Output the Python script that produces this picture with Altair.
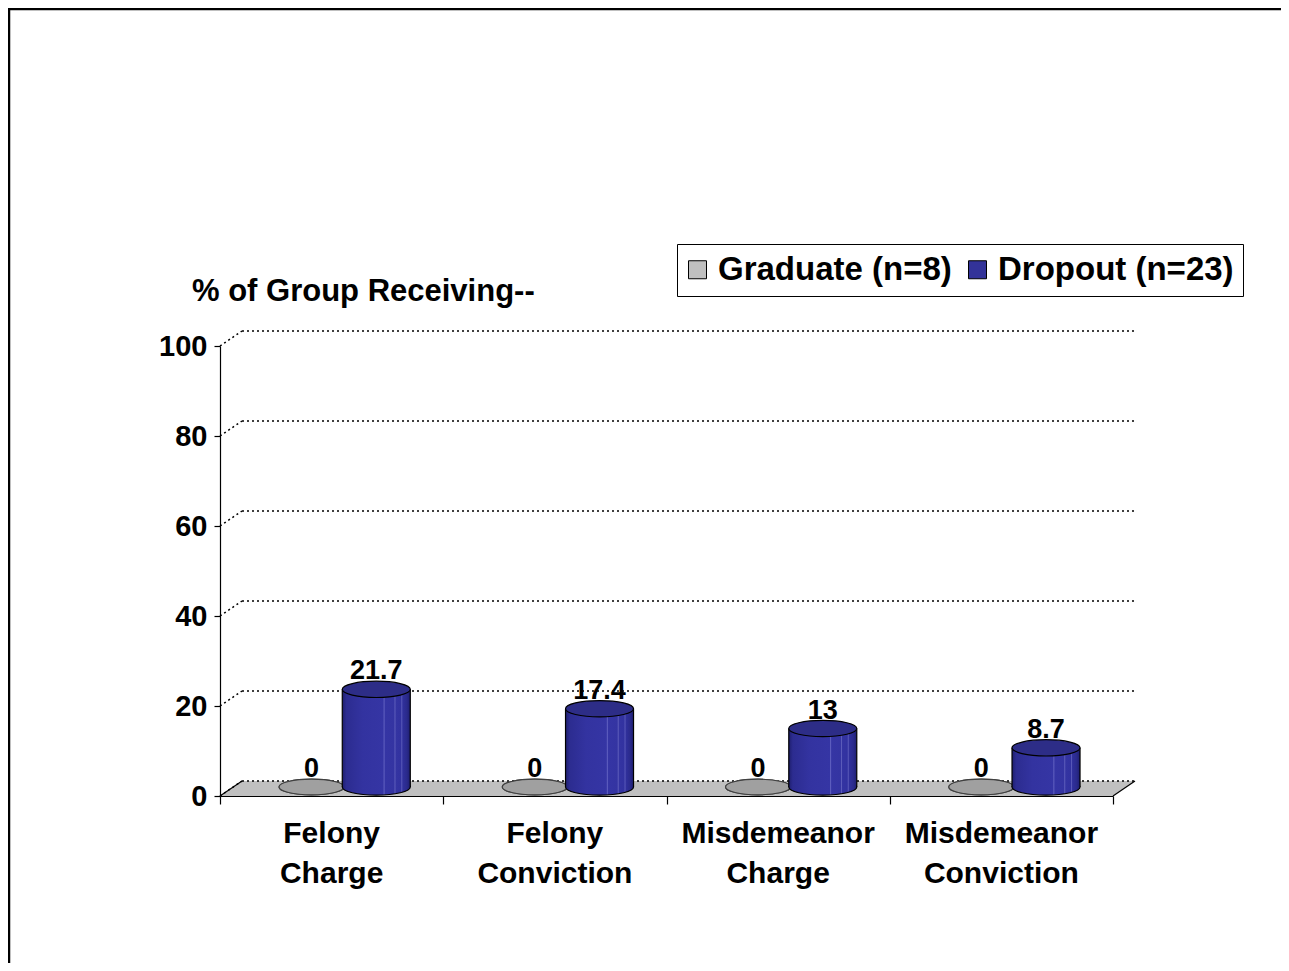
import altair as alt
import pandas as pd

# ---- data ----
categories = ["Felony\nCharge", "Felony\nConviction", "Misdemeanor\nCharge", "Misdemeanor\nConviction"]
series = ["Graduate (n=8)", "Dropout (n=23)"]
graduate = [0, 0, 0, 0]
dropout = [21.7, 17.4, 13, 8.7]
y_ticks = [0, 20, 40, 60, 80, 100]
title_text = "% of Group Receiving--"

# ---- layout / style ----
W, H = 893, 450
NCAT = len(categories)
YMAX = 100
PX_X = W / NCAT
PX_Y = H / YMAX
DEPTH_X, DEPTH_Y = 22, 15           # 3-D depth in px
DXU, DYU = DEPTH_X / PX_X, DEPTH_Y / PX_Y
HALF = -9                           # cylinders sit mid-depth
FONT = "Liberation Sans, Arial, sans-serif"
ELL = "M-1,0A1,0.24,0,1,0,1,0A1,0.24,0,1,0,-1,0Z"
pos = {series[0]: (0.41, 65), series[1]: (0.70, 68)}

rows = []
for i, cat in enumerate(categories):
    for s, vals in ((series[0], graduate), (series[1], dropout)):
        p, bw = pos[s]
        c = i + p
        rows.append(dict(cat=cat, series=s, value=vals[i], base=0, xc=c,
                         xl=c - bw / 2 / PX_X, xr=c + bw / 2 / PX_X, sz=bw * bw))
df = pd.DataFrame(rows)
cat_df = pd.DataFrame({"cat": categories, "cx": [i + 0.5 for i in range(NCAT)]})

xs = alt.Scale(domain=[0, NCAT], nice=False, zero=False)
ys = alt.Scale(domain=[0, YMAX], nice=False, zero=False)
AX_X = alt.Axis(values=list(range(NCAT + 1)), labels=False, tickSize=8,
                tickColor="black", domainColor="black", grid=False, title=None,
                tickWidth=1.2, domainWidth=1.2)
AX_Y = alt.Axis(values=y_ticks, tickSize=6, labelFont=FONT, labelFontSize=29,
                labelFontWeight="bold", labelColor="black", labelPadding=7,
                tickColor="black", domainColor="black", grid=False, title=None,
                tickWidth=1.2, domainWidth=1.2)


def X(f):
    return alt.X(f, type="quantitative", scale=xs, axis=AX_X)


def Y(f):
    return alt.Y(f, type="quantitative", scale=ys, axis=AX_Y)


# floor
floor_df = pd.DataFrame({"fx": [0, DXU, NCAT, NCAT + DXU],
                         "ft": [0, DYU, DYU, DYU],
                         "fb": [0, 0, 0, DYU]})
floor = alt.Chart(floor_df).mark_area(fill="#C0C0C0", interpolate="linear").encode(
    x=X("fx"), y=Y("ft"), y2="fb:Q")

# gridlines (dotted) and floor sides (solid)
seg = []
for v in y_ticks:
    seg.append(dict(x=0, y=v, x2=DXU, y2=v + DYU, kind="dot"))
    seg.append(dict(x=DXU, y=v + DYU, x2=NCAT + DXU, y2=v + DYU, kind="dot"))
seg.append(dict(x=0, y=0, x2=DXU, y2=DYU, kind="solid"))
seg.append(dict(x=NCAT, y=0, x2=NCAT + DXU, y2=DYU, kind="solid"))
seg_df = pd.DataFrame(seg)
dots = alt.Chart(seg_df).transform_filter(alt.datum.kind == "dot").mark_rule(
    color="black", strokeWidth=1.5, strokeDash=[2, 3]).encode(x=X("x"), y=Y("y"), x2="x2:Q", y2="y2:Q")
solids = alt.Chart(seg_df).transform_filter(alt.datum.kind == "solid").mark_rule(
    color="black", strokeWidth=1.2).encode(x=X("x"), y=Y("y"), x2="x2:Q", y2="y2:Q")


def grad(stops):
    return {"gradient": "linear", "x1": 0, "x2": 1, "y1": 0, "y2": 0,
            "stops": [{"offset": o, "color": c} for o, c in stops]}


blue_body = grad([(0, "#1e1e6e"), (0.06, "#2c2c90"), (0.3, "#3333a0"), (0.6, "#3535a4"),
                  (0.615, "#6060c0"), (0.63, "#3535a4"), (0.76, "#3434a2"), (0.775, "#5c5cba"),
                  (0.79, "#3434a2"), (0.86, "#3232a0"), (0.875, "#5858b8"), (0.89, "#30309c"),
                  (0.95, "#2a2a8c"), (1, "#1e1e70")])
gray_body = grad([(0, "#808080"), (0.2, "#a0a0a0"), (0.7, "#a8a8a8"), (1, "#808080")])


def cylinder(sname, body, top_fill, stroke):
    base = alt.Chart(df).transform_filter(alt.datum.series == sname)
    bottom = base.mark_point(shape=ELL, filled=True, fill=body, stroke=stroke, strokeWidth=1.2,
                             opacity=1, yOffset=HALF).encode(
        x=X("xc"), y=Y("base"), size=alt.Size("sz:Q", scale=None))
    bar = base.mark_bar(fill=body, yOffset=HALF, y2Offset=HALF).encode(
        x=X("xl"), x2="xr:Q", y=Y("base"), y2="value:Q")
    left = base.mark_rule(color=stroke, strokeWidth=1.2, yOffset=HALF, y2Offset=HALF).encode(
        x=X("xl"), y=Y("base"), y2="value:Q")
    right = base.mark_rule(color=stroke, strokeWidth=1.2, yOffset=HALF, y2Offset=HALF).encode(
        x=X("xr"), y=Y("base"), y2="value:Q")
    top = base.mark_point(shape=ELL, filled=True, fill=top_fill, stroke=stroke, strokeWidth=1.2,
                          opacity=1, yOffset=HALF).encode(
        x=X("xc"), y=Y("value"), size=alt.Size("sz:Q", scale=None))
    return [bottom, bar, left, right, top]


grad_layers = cylinder(series[0], gray_body, "#a0a0a0", "#404040")
drop_layers = cylinder(series[1], blue_body, "#2d2d87", "black")

labels = alt.Chart(df).mark_text(font=FONT, fontSize=27, fontWeight="bold", color="black",
                                 baseline="alphabetic", align="center", yOffset=-19).encode(
    x=X("xc"), y=Y("value"), text=alt.Text("value:Q", format="~g"))

cat_labels = alt.Chart(cat_df).mark_text(font=FONT, fontSize=30, fontWeight="bold", color="black",
                                         baseline="alphabetic", align="center", lineBreak="\n",
                                         lineHeight=40).encode(
    x=X("cx"), y=alt.value(497), text="cat:N")

title = alt.Chart(pd.DataFrame({"t": [title_text]})).mark_text(
    font=FONT, fontSize=31, fontWeight="bold", color="black", align="left", baseline="alphabetic").encode(
    x=alt.value(-28), y=alt.value(-45), text="t:N")

legend_layer = alt.Chart(pd.DataFrame({"series": series})).mark_square(
    size=0, stroke="black", strokeWidth=1, opacity=1).encode(
    x=alt.value(0), y=alt.value(H),
    color=alt.Color("series:N", sort=series,
                    scale=alt.Scale(domain=series, range=["#C0C0C0", "#333399"]),
                    legend=alt.Legend(title=None, orient="none", legendX=457, legendY=-102,
                                      direction="horizontal", symbolType="square", symbolSize=324,
                                      symbolStrokeColor="black", symbolStrokeWidth=1,
                                      symbolOffset=-5,
                                      labelFont=FONT, labelFontSize=33, labelFontWeight="bold",
                                      labelColor="black", labelOffset=4, columnPadding=14,
                                      padding=9, strokeColor="black", fillColor="white",
                                      labelLimit=500)))

frame = alt.Chart(pd.DataFrame({"a": [0]}))
frame_top = frame.mark_rule(color="black", strokeWidth=2.5).encode(
    x=alt.value(-212), x2=alt.value(W + 168), y=alt.value(-337))
frame_left = frame.mark_rule(color="black", strokeWidth=2.5).encode(
    x=alt.value(-211), y=alt.value(-338), y2=alt.value(H + 167))

chart = alt.layer(
    floor, dots, solids, *grad_layers, *drop_layers, labels, cat_labels, title, legend_layer,
    frame_top, frame_left,
).properties(
    width=W, height=H,
    autosize=alt.AutoSizeParams(type="none"),
    padding={"left": 212, "top": 338, "right": 168, "bottom": 167},
).configure_view(strokeOpacity=0)

chart.save("out.html", embed_options={"renderer": "svg", "actions": False})
